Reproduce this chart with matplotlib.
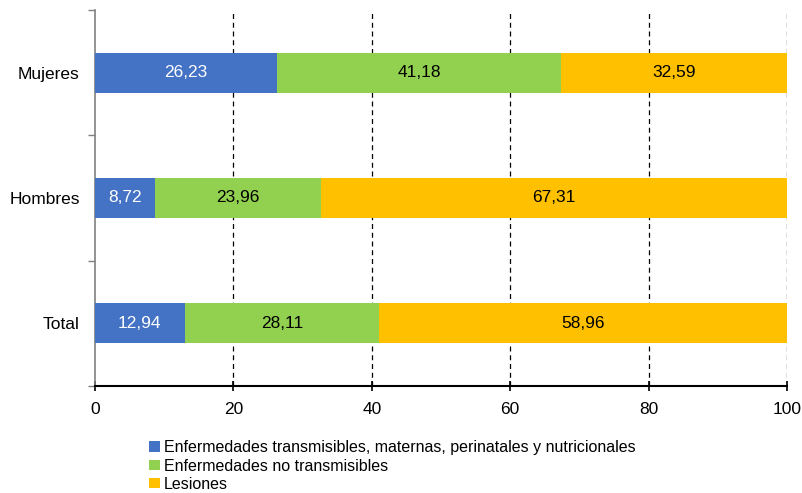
import matplotlib
matplotlib.use("Agg")
import matplotlib.pyplot as plt
from matplotlib.patches import Patch

plt.rcParams['font.family'] = ['Liberation Sans', 'DejaVu Sans']

categories = ["Total", "Hombres", "Mujeres"]
transmisibles = [12.94, 8.72, 26.23]
no_transmisibles = [28.11, 23.96, 41.18]
lesiones = [58.96, 67.31, 32.59]
series_names = ["Enfermedades transmisibles, maternas, perinatales y nutricionales",
                "Enfermedades no transmisibles",
                "Lesiones"]
colors = ["#4472C4", "#92D050", "#FFC000"]
text_colors = ["white", "black", "black"]
xticks = [0, 20, 40, 60, 80, 100]

fig = plt.figure(figsize=(8.02, 4.93), dpi=100)
ax = fig.add_axes([95/802, 1-386/493, (787-95)/802, (386-10)/493])

ypos = list(range(len(categories)))
left = [0.0]*len(categories)
for vals, col, tc in zip([transmisibles, no_transmisibles, lesiones], colors, text_colors):
    ax.barh(ypos, vals, left=left, height=0.32, color=col, zorder=3)
    for y, v, l in zip(ypos, vals, left):
        ax.text(l + v/2, y, f"{v:.2f}".replace(".", ","), ha="center", va="center",
                color=tc, fontsize=12.5, zorder=4)
    left = [a+b for a, b in zip(left, vals)]

ax.set_xlim(0, 100)
ax.set_ylim(-0.5, 2.5)
ax.set_xticks(xticks)
ax.set_xticklabels([str(x) for x in xticks], fontsize=12.5)
for x in xticks[1:]:
    ax.axvline(x, color="black", linestyle=(0, (4, 3)), linewidth=0.9, zorder=2)

ax.set_yticks([-0.5, 0.5, 1.5, 2.5])
ax.set_yticklabels([])
ax.set_yticks(ypos, minor=True)
ax.set_yticklabels(categories, minor=True, fontsize=12.5)
ax.tick_params(axis="y", which="minor", length=0, pad=11)
ax.tick_params(axis="y", which="major", length=5, color="#808080", width=1)
ax.tick_params(axis="x", direction="inout", length=7, width=1.2, pad=8)

for s in ["top", "right"]:
    ax.spines[s].set_visible(False)
ax.spines["left"].set_color("#808080")
ax.spines["left"].set_linewidth(1.2)
ax.spines["bottom"].set_color("black")
ax.spines["bottom"].set_linewidth(1.5)

handles = [Patch(facecolor=c, edgecolor="none") for c in colors]
fig.legend(handles, series_names, loc="upper left", bbox_to_anchor=(143/802, 1-434/493),
           frameon=False, fontsize=11.5, handlelength=0.65, handleheight=0.65,
           handletextpad=0.25, labelspacing=0.2, borderaxespad=0)

fig.savefig("out.png", dpi=100)
